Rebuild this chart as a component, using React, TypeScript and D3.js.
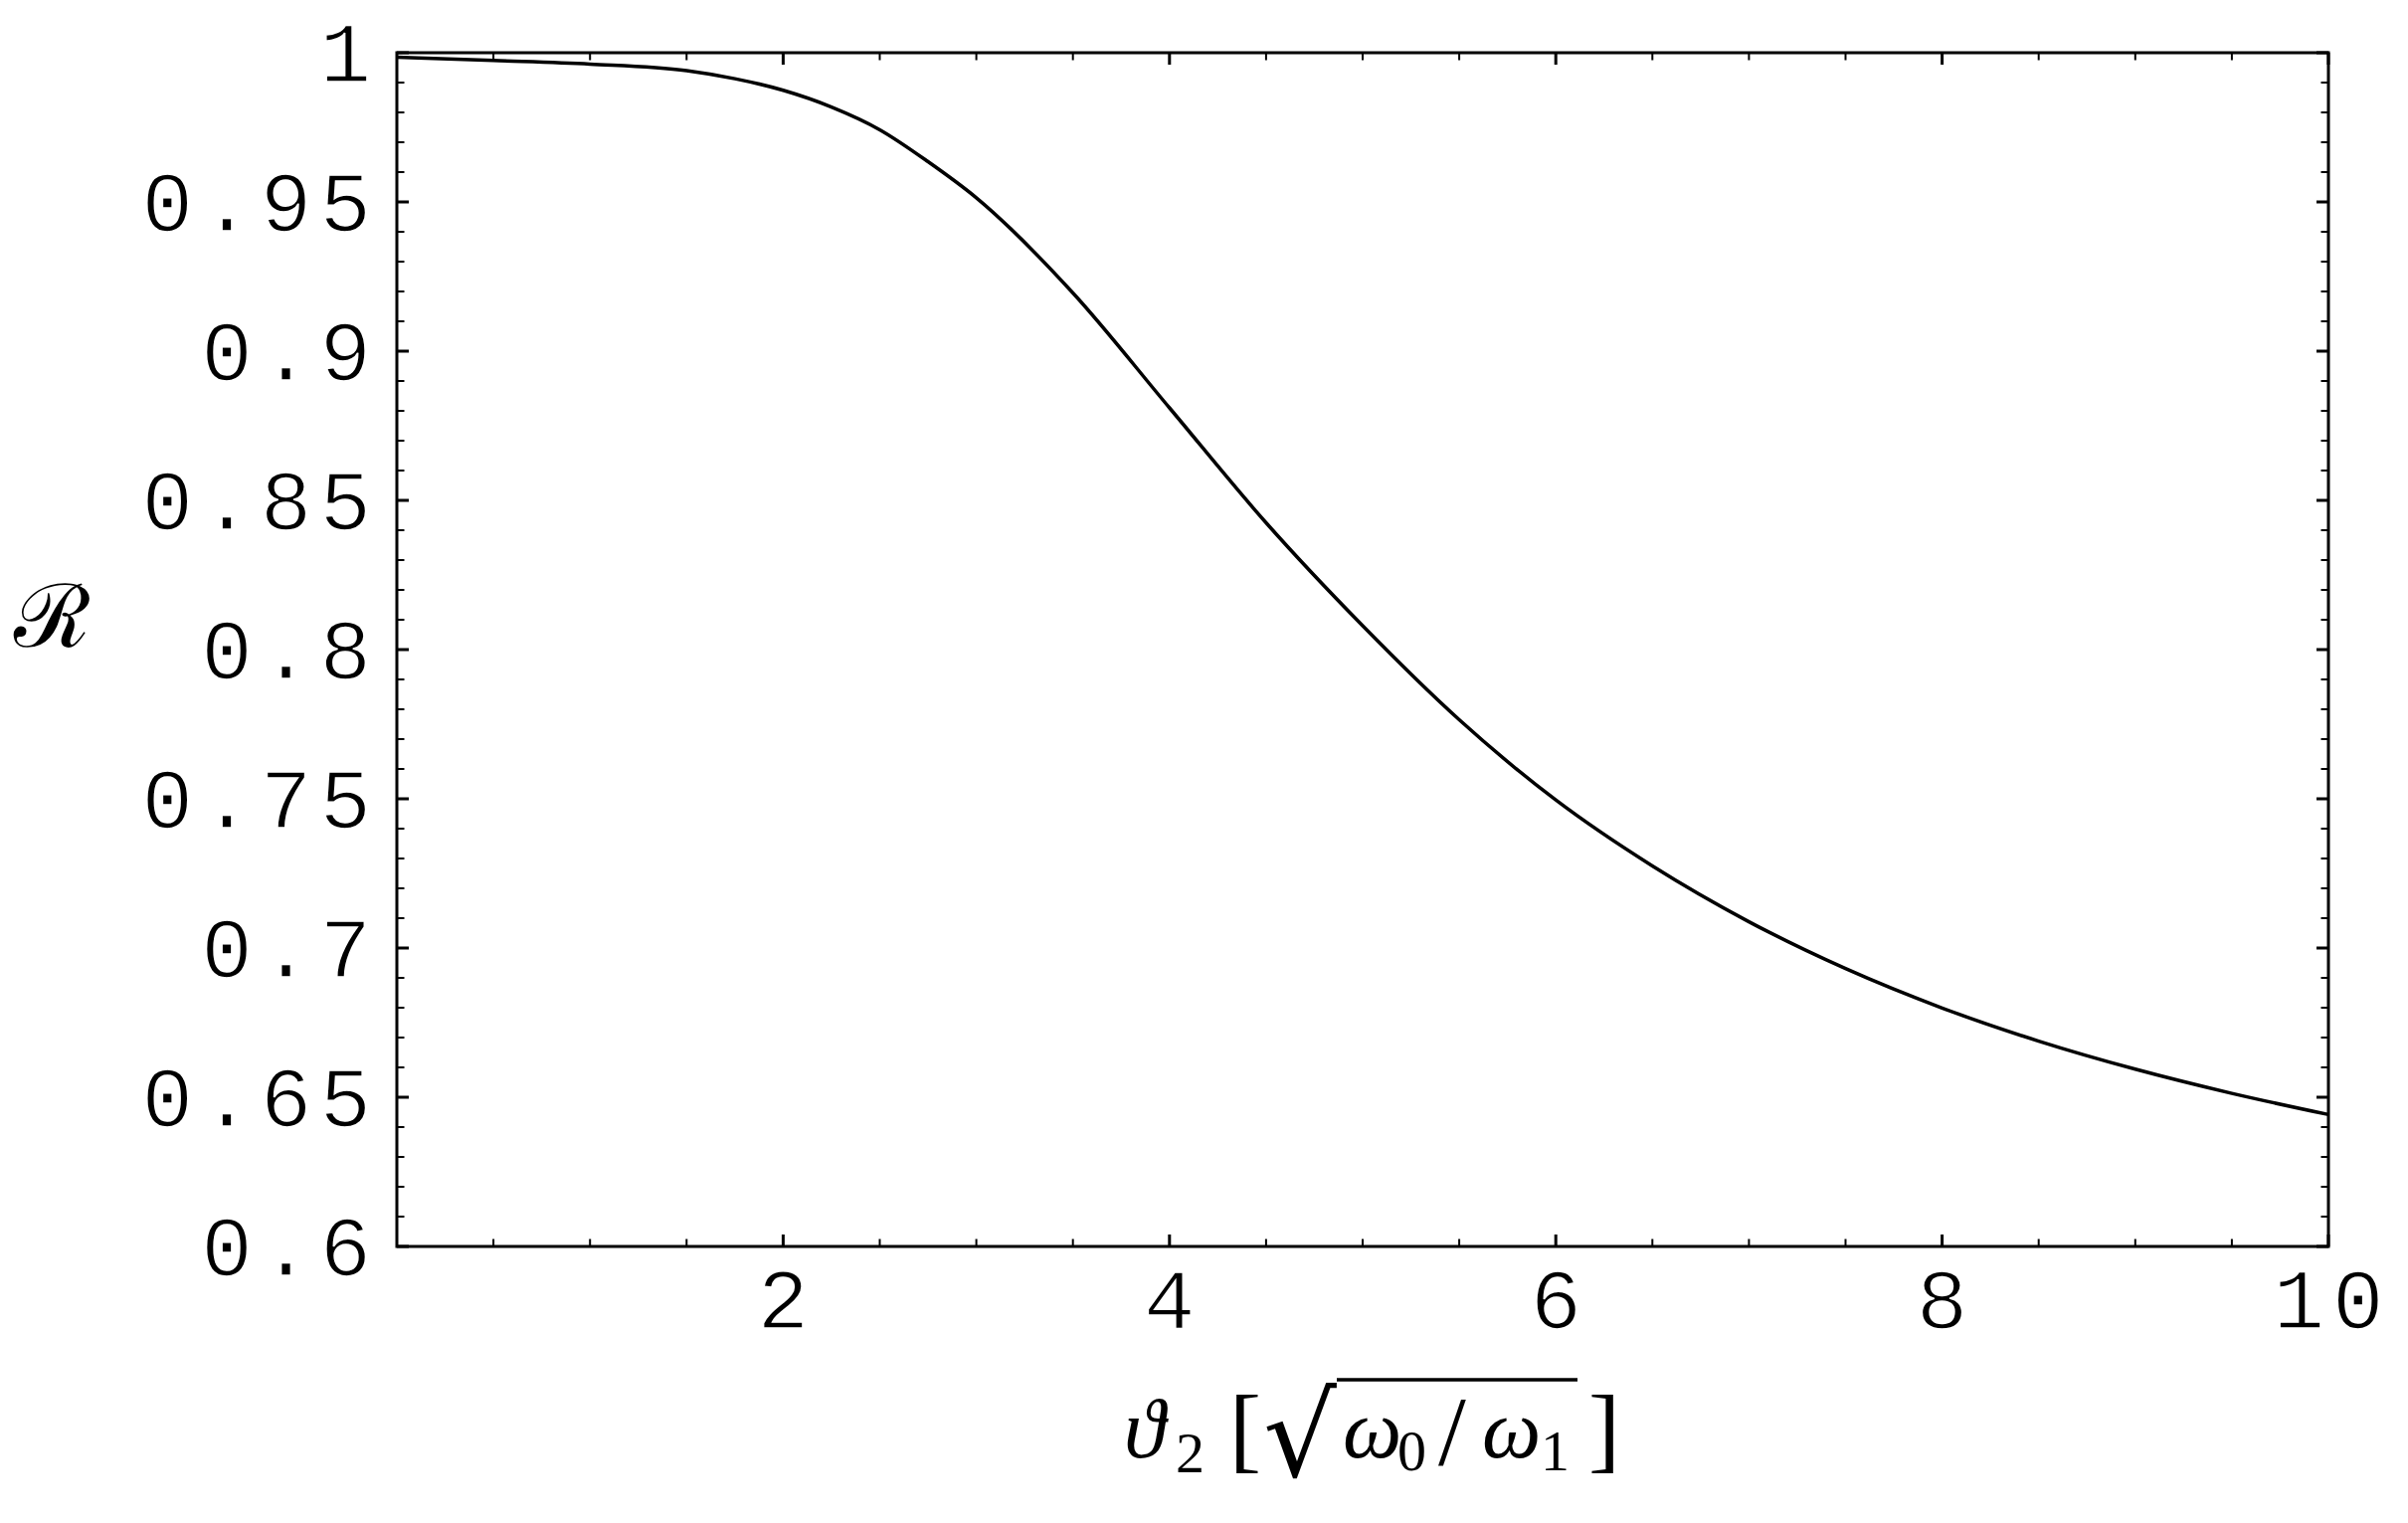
import React from 'react';
import * as d3 from 'd3';

// Curve R(theta2)
const thetaValues = [0, 0.5, 1, 1.5, 1.75, 2, 2.25, 2.5, 2.75, 3, 3.5, 4, 4.5, 5, 5.5, 6, 6.5, 7, 7.5, 8, 8.5, 9, 9.5, 10];
const rValues = [0.9985, 0.9974, 0.9962, 0.9940, 0.9913, 0.9874, 0.9818, 0.9742, 0.9635, 0.9514, 0.9195, 0.8810, 0.8425, 0.8080, 0.7765, 0.7496, 0.7275, 0.7088, 0.6931, 0.6799, 0.6688, 0.6594, 0.6513, 0.6442];

const xMajorTicks = [2, 4, 6, 8, 10];
const xTickLabels = ['2', '4', '6', '8', '10'];
const yMajorTicks = [0.6, 0.65, 0.7, 0.75, 0.8, 0.85, 0.9, 0.95, 1];
const yTickLabels = ['0.6', '0.65', '0.7', '0.75', '0.8', '0.85', '0.9', '0.95', '1'];

const W = 2421;
const H = 1531;
const margin = { left: 399, right: 80, top: 53, bottom: 278 };

export default function App() {
  const x = d3.scaleLinear().domain([0, 10]).range([margin.left, W - margin.right]);
  const y = d3.scaleLinear().domain([0.6, 1]).range([H - margin.bottom, margin.top]);

  const xMinor = d3.range(0, 10.001, 0.5).filter(v => !xMajorTicks.includes(v));
  const yMinor = d3.range(0, 41).map(i => 0.6 + i * 0.01).filter(v => !yMajorTicks.some(t => Math.abs(t - v) < 1e-6));

  const line = d3.line<number>()
    .x((_, i) => x(thetaValues[i]))
    .y(d => y(d))
    .curve(d3.curveMonotoneX);

  const [x0, x1] = x.range();
  const [y0, y1] = y.range();
  const major = 12;
  const minor = 7.5;
  const tickFont = "'Liberation Mono', 'DejaVu Sans Mono', monospace";
  const mathFont = "'Liberation Serif', 'DejaVu Serif', serif";

  return (
    <svg width={W} height={H} style={{ position: 'absolute', left: 0, top: 0, background: '#fff' }}>
      {/* curve */}
      <path d={line(rValues) || ''} fill="none" stroke="#000" strokeWidth={3.5} strokeLinejoin="round" />

      {/* ticks on all four sides, pointing in */}
      <g stroke="#000">
        {xMajorTicks.map(v => (
          <g key={'xm' + v} strokeWidth={3}>
            <line x1={x(v)} x2={x(v)} y1={y0} y2={y0 - major} />
            <line x1={x(v)} x2={x(v)} y1={y1} y2={y1 + major} />
          </g>
        ))}
        {xMinor.map(v => (
          <g key={'xn' + v} strokeWidth={2}>
            <line x1={x(v)} x2={x(v)} y1={y0} y2={y0 - minor} />
            <line x1={x(v)} x2={x(v)} y1={y1} y2={y1 + minor} />
          </g>
        ))}
        {yMajorTicks.map(v => (
          <g key={'ym' + v} strokeWidth={3}>
            <line x1={x0} x2={x0 + major} y1={y(v)} y2={y(v)} />
            <line x1={x1} x2={x1 - major} y1={y(v)} y2={y(v)} />
          </g>
        ))}
        {yMinor.map(v => (
          <g key={'yn' + v} strokeWidth={2}>
            <line x1={x0} x2={x0 + minor} y1={y(v)} y2={y(v)} />
            <line x1={x1} x2={x1 - minor} y1={y(v)} y2={y(v)} />
          </g>
        ))}
      </g>

      {/* frame */}
      <rect x={x0} y={y1} width={x1 - x0} height={y0 - y1} fill="none" stroke="#000" strokeWidth={3} />

      {/* y tick labels (thin white outline makes the glyphs lighter, like the original) */}
      <g fontFamily={tickFont} fontSize={86} letterSpacing={8} fill="#000" stroke="#fff" strokeWidth={1.6}>
        {yMajorTicks.map((v, i) => (
          <text key={'yl' + v} x={x0 - 26 + 8} y={y(v) + 29} textAnchor="end">{yTickLabels[i]}</text>
        ))}
      </g>

      {/* x tick labels */}
      <g fontFamily={tickFont} fontSize={86} letterSpacing={8} fill="#000" stroke="#fff" strokeWidth={1.6}>
        {xMajorTicks.map((v, i) => (
          <text key={'xl' + v} x={x(v) + 4} y={y0 + 82} textAnchor="middle">{xTickLabels[i]}</text>
        ))}
      </g>

      {/* y axis label */}
      <text x={52} y={619} textAnchor="middle" dominantBaseline="central" fontFamily="'DejaVu Serif', serif" fontSize={88}>ℛ</text>

      {/* x axis label: theta_2 [ sqrt(omega_0 / omega_1) ] */}
      <g fontFamily={mathFont} fill="#000">
        <text x={1130} y={1465} fontSize={84} fontStyle="italic">ϑ</text>
        <text x={1182} y={1480} fontSize={58}>2</text>
        <text x={1236} y={1468} fontSize={96}>[</text>
        <text x={1270} y={1484} fontSize={116} fontFamily="'DejaVu Sans', sans-serif">√</text>
        <line x1={1344} x2={1586} y1={1387} y2={1387} stroke="#000" strokeWidth={3.5} />
        <text x={1350} y={1465} fontSize={84} fontStyle="italic">ω</text>
        <text x={1405} y={1478} fontSize={58}>0</text>
        <text x={1446} y={1472} fontSize={100}>/</text>
        <text x={1490} y={1465} fontSize={84} fontStyle="italic">ω</text>
        <text x={1549} y={1478} fontSize={58}>1</text>
        <text x={1597} y={1468} fontSize={96}>]</text>
      </g>
    </svg>
  );
}
